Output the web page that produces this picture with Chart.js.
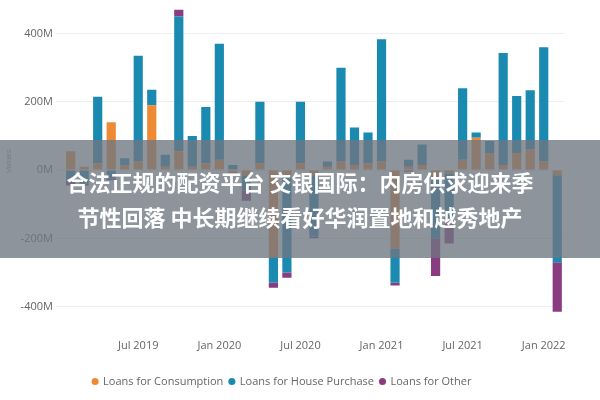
<!DOCTYPE html>
<html><head><meta charset="utf-8">
<script src="https://cdn.jsdelivr.net/npm/chart.js@4"></script>
<style>
body{margin:0;background:#fff;}
#wrap{position:relative;width:600px;height:400px;}
#band{position:absolute;left:0;top:140px;width:600px;height:118px;background:rgba(110,118,128,0.78);color:#fff;
font:bold 22px "Noto Sans CJK SC";text-align:center;line-height:35px;padding-top:24px;box-sizing:border-box;}
</style></head><body>
<div id="wrap"><canvas id="c" width="600" height="400"></canvas>
<div id="band">合法正规的配资平台 交银国际：内房供求迎来季<br>节性回落 中长期继续看好华润置地和越秀地产</div></div>
<script>
const months = ['Feb 2019','Mar 2019','Apr 2019','May 2019','Jun 2019','Jul 2019','Aug 2019','Sep 2019','Oct 2019','Nov 2019','Dec 2019',
 'Jan 2020','Feb 2020','Mar 2020','Apr 2020','May 2020','Jun 2020','Jul 2020','Aug 2020','Sep 2020','Oct 2020','Nov 2020','Dec 2020',
 'Jan 2021','Feb 2021','Mar 2021','Apr 2021','May 2021','Jun 2021','Jul 2021','Aug 2021','Sep 2021','Oct 2021','Nov 2021','Dec 2021',
 'Jan 2022','Feb 2022'];
const consumption = [55, 10, 20, 140, 15, 25, 190, 10, 55, 10, 20, 30, -10, -15, 20, -255, -20, 20, -15, 10, 25, 15, 20, 25, -230, 10, 15, -20, -10, 30, 95, 50, 15, 50, 60, 25, -15];
const house = [-35, -40, 195, -25, 20, 310, 45, 35, 395, 90, 165, 340, 15, -45, 180, -75, -280, 180, -180, 15, 275, 110, 90, 358, -100, 20, 60, -180, -130, 210, 15, 35, 328, 167, 174, 335, -255];
const other = [-10, -5, 0, -5, 0, 0, 0, 0, 20, 0, 0, 0, -5, -30, 0, -15, -15, 0, -5, 0, 0, 0, 0, 0, -8, -5, 0, -110, -75, 0, 0, 0, 0, 0, 0, 0, -145];
const yTicks = [-400, -200, 0, 200, 400];

new Chart(document.getElementById('c'), {
  type: 'bar',
  data: {
    labels: months,
    datasets: [
      {label: 'Loans for Consumption', data: consumption, backgroundColor: '#EE8A35'},
      {label: 'Loans for House Purchase', data: house, backgroundColor: '#1B8AB0'},
      {label: 'Loans for Other', data: other, backgroundColor: '#8A3C82'}
    ]
  },
  options: {
    responsive: false, animation: false,
    layout: {padding: {left: 0, right: 36, top: 0, bottom: 3}},
    datasets: {bar: {categoryPercentage: 0.8, barPercentage: 0.85}},
    scales: {
      x: {stacked: true, grid: {display: false}, border: {display: false},
        ticks: {color: '#666', padding: 18, font: {family: 'Open Sans', size: 11}, maxRotation: 0, autoSkip: false,
          callback: (v, i) => (months[i].startsWith('Jul') || months[i].startsWith('Jan')) ? months[i] : ''}},
      y: {stacked: true, min: -418, max: 470,
        afterBuildTicks: a => { a.ticks = yTicks.map(v => ({value: v})); },
        grid: {color: '#eee'}, border: {display: false},
        title: {display: true, text: 'Values', color: '#999', font: {size: 8}},
        ticks: {color: '#666', font: {family: 'Open Sans', size: 11}, callback: v => v + 'M'}}
    },
    plugins: {
      legend: {position: 'bottom', labels: {usePointStyle: true, pointStyle: 'circle', boxWidth: 5, boxHeight: 5,
        padding: 6, color: '#666', font: {family: 'Open Sans', size: 11}}},
      tooltip: {enabled: false}
    }
  }
});
</script></body></html>
